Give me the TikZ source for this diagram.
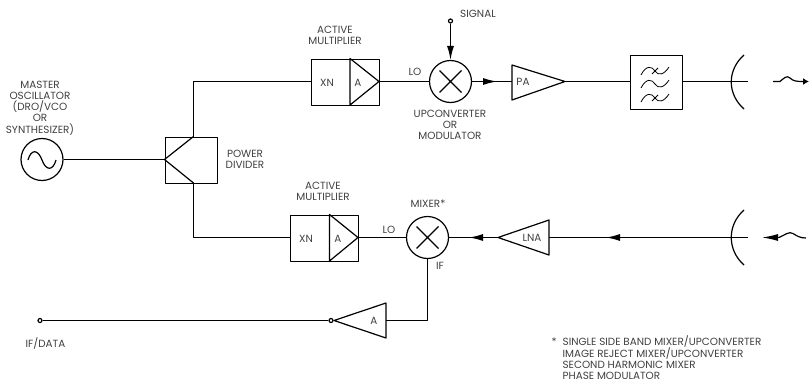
\documentclass[tikz,border=0pt]{standalone}
\usepackage{fontspec}
\setmainfont{Poppins}
\usetikzlibrary{arrows.meta}
\begin{document}
\begin{tikzpicture}[x=1pt, y=-1pt, line width=1.2pt, line join=round,
    every node/.style={font=\fontsize{10.4}{11.2}\selectfont, text=black!75, align=center, inner sep=0pt},
    unit/.style={draw, rectangle, minimum width=#1, anchor=north west, minimum height=46.5pt},
    round unit/.style={draw, circle, minimum size=42pt},
    port/.style={draw, circle, minimum size=4pt, fill=white},
    flow/.style={-{Latex[length=14pt, width=7pt]}}]
    \useasboundingbox (0,0) rectangle (809,383);
    % master oscillator and divider
    \node[round unit] (osc) at (42,159.5) {};
    \draw (28,160) .. controls (31,149) and (38,149) .. (42,160) .. controls (46,171) and (53,171) .. (56,160);
    \node at (40,108) {MASTER\\OSCILLATOR\\(DRO/VCO\\OR\\SYNTHESIZER)};
    \node[unit=52pt] (divider) at (164.5,136.5) {};
    \coordinate (divin) at (164.5,159.5);
    \coordinate (divup) at (193.5,136.5);
    \coordinate (divdown) at (193.5,183);
    \draw (divup) -- (divin) -- (divdown);
    \draw (osc) -- (divin);
    \node at (245,159) {POWER\\DIVIDER};
    % upper chain
    \node[unit=68pt] (multup) at (311,58.5) {};
    \coordinate (multupin) at (311,81.5);
    \coordinate (multupa) at (350,58.5);
    \coordinate (multupb) at (350,105);
    \coordinate (multupout) at (379,81.5);
    \draw (multupa) -- (multupout) -- (multupb) -- cycle;
    \node at (327,83) {XN};
    \node at (358,83) {A};
    \node at (335,35.5) {ACTIVE\\MULTIPLIER};
    \draw (divup) |- (multupin);
    \node[round unit] (upconv) at (450.5,81.5) {};
    \draw[shift={(upconv.center)}] (-11,-11) -- (11,11) (11,-11) -- (-11,11);
    \draw (multupout) -- (upconv);
    \node at (415,72) {LO};
    \node[port] (signal) at (450.5,21) {};
    \node at (478,14) {SIGNAL};
    \draw[flow] (signal) -- (upconv);
    \node at (450,125) {UPCONVERTER\\OR\\MODULATOR};
    \coordinate (paa) at (512,65);
    \coordinate (pab) at (512,100);
    \coordinate (paout) at (565,81.5);
    \coordinate (pain) at (512,81.5);
    \coordinate (patip) at (497,81.5);
    \draw (paa) -- (paout) -- (pab) -- cycle;
    \node at (523,82) {PA};
    \draw (upconv) -- (pain);
    \draw[flow] (upconv) -- (patip);
    \node[draw, rectangle, minimum width=52pt, minimum height=54pt, anchor=north west] (filter) at (630,55) {};
    \foreach \ypos in {71,84,98} {
        \draw[line width=0.8pt] (641,\ypos+4) .. controls (646,\ypos-6) and (652,\ypos-5) .. (655,\ypos) .. controls (658,\ypos+5) and (664,\ypos+4) .. (669,\ypos-4);
    }
    \draw[line width=0.8pt] (652,74) -- (658,68) (652,101) -- (658,95);
    \coordinate (filterin) at (630,81.5);
    \coordinate (filterout) at (682,81.5);
    \draw (paout) -- (filterin);
    \coordinate (dishup) at (748,81.5);
    \draw (744,55) .. controls (727,70) and (727,94) .. (744,109);
    \draw (filterout) -- (dishup);
    \coordinate (waveup) at (773,81.5);
    \coordinate (tipup) at (809,81.5);
    \draw (waveup) -- (780,81.5) .. controls (784,78) and (787,75) .. (790,78) .. controls (793,81) and (796,81.5) .. (803,81.5);
    \draw[-{Latex[length=6pt, width=7pt]}] (803,81.5) -- (tipup);
    % lower chain
    \node[unit=68pt] (multdown) at (290,214.5) {};
    \coordinate (multdownin) at (290,237.5);
    \coordinate (multdowna) at (329.5,214.5);
    \coordinate (multdownb) at (329.5,261);
    \coordinate (multdownout) at (358,237.5);
    \draw (multdowna) -- (multdownout) -- (multdownb) -- cycle;
    \node at (306,239) {XN};
    \node at (338,239) {A};
    \node at (323,191) {ACTIVE\\MULTIPLIER};
    \draw (divdown) |- (multdownin);
    \node[round unit] (mixer) at (427.5,237.5) {};
    \draw[shift={(mixer.center)}] (-11,-11) -- (11,11) (11,-11) -- (-11,11);
    \draw (multdownout) -- (mixer);
    \node at (389,230) {LO};
    \node at (428,204) {MIXER*};
    \node at (440,266) {IF};
    \coordinate (lnaout) at (498,237.5);
    \coordinate (lnaa) at (549,220);
    \coordinate (lnab) at (549,255);
    \coordinate (lnain) at (549,237.5);
    \coordinate (lnatip) at (469,237.5);
    \coordinate (rxtip) at (606,237.5);
    \draw (lnaout) -- (lnaa) -- (lnab) -- cycle;
    \node at (532,238) {LNA};
    \draw (lnaout) -- (mixer);
    \draw[flow] (lnaout) -- (lnatip);
    \coordinate (dishdown) at (748,237.5);
    \draw (744,210) .. controls (727,225) and (727,250) .. (744,265);
    \draw (dishdown) -- (lnain);
    \draw[flow] (dishdown) -- (rxtip);
    \coordinate (wavetip) at (762,237.5);
    \draw[-{Latex[length=16pt, width=7pt]}] (779,237.5) -- (wavetip);
    \draw (779,237.5) .. controls (785,235) and (789,231) .. (793,233.5) .. controls (797,236) and (800,238) .. (806,238);
    % if path
    \coordinate (ampa) at (386,303);
    \coordinate (ampb) at (386,338);
    \coordinate (ampin) at (386,320.5);
    \coordinate (amptip) at (334,320.5);
    \draw (ampa) -- (amptip) -- (ampb) -- cycle;
    \node at (374,321) {A};
    \draw (mixer) |- (ampin);
    \node[port] (ampport) at (331,320.5) {};
    \node[port] (ifdata) at (40,320.5) {};
    \draw (ifdata) -- (ampport);
    \node at (45.5,343) {IF/DATA};
    % footnote
    \node[font=\fontsize{10.4}{10.9}\selectfont, align=left, anchor=north west] at (551,335) {*\hspace{6pt}SINGLE SIDE BAND MIXER/UPCONVERTER\\\hspace{11pt}IMAGE REJECT MIXER/UPCONVERTER\\\hspace{11pt}SECOND HARMONIC MIXER\\\hspace{11pt}PHASE MODULATOR};
\end{tikzpicture}
\end{document}
